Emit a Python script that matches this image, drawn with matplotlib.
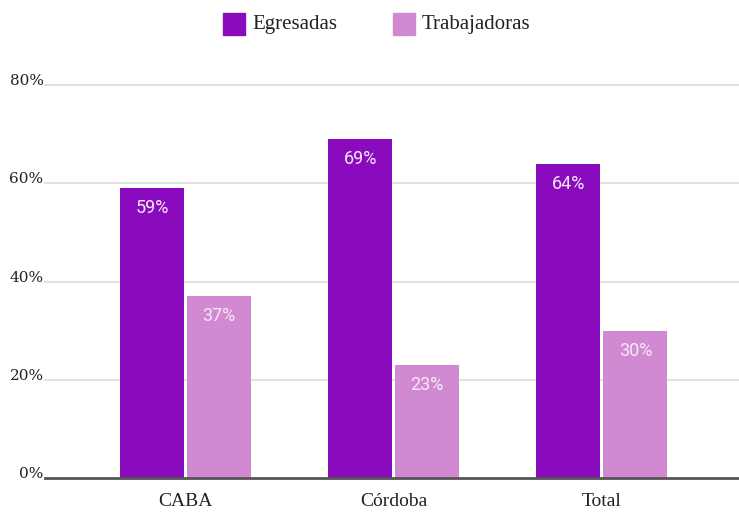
import matplotlib.pyplot as plt
import numpy as np
from matplotlib.patches import Rectangle

categories = ['CABA', 'Córdoba', 'Total']
egresadas = [59, 69, 64]
trabajadoras = [37, 23, 30]
y_ticks = [0, 20, 40, 60, 80]

c_egr = '#8a0bbd'
c_trab = '#d18ad2'

W, H = 739, 512
fig = plt.figure(figsize=(W / 100, H / 100), dpi=100)
ax = fig.add_axes([45 / W, (H - 478) / H, 1 - 45 / W, (478 - 85) / H])

x = np.arange(len(categories))
w = 0.308
gap = 0.0072
b1 = ax.bar(x - w / 2 - gap, egresadas, w, color=c_egr, zorder=3)
b2 = ax.bar(x + w / 2 + gap, trabajadoras, w, color=c_trab, zorder=3)

for bars in (b1, b2):
    for r in bars:
        ax.annotate(f'{r.get_height():.0f}%', (r.get_x() + r.get_width() / 2, r.get_height()),
                    xytext=(0, -14.5), textcoords='offset points', ha='center', va='center',
                    color='#f6e9f6', fontsize=13, family='Roboto', zorder=4)

ax.set_xlim(-0.675, 2.659)
ax.set_ylim(0, 80)

for s in ax.spines.values():
    s.set_visible(False)
for t in y_ticks[1:]:
    ax.axhline(t, color='#dcdcdc', lw=1.2, zorder=1, clip_on=False)
ax.axhline(0, color='#555555', lw=2, zorder=5, clip_on=False)

ax.set_yticks([])
ax.set_xticks(x)
ax.set_xticklabels(categories, family='Liberation Serif', fontsize=14, color='#222222')
ax.tick_params(axis='x', length=0, pad=11)

for t in y_ticks:
    ax.text(-0.002, t, f'{t}%', transform=ax.get_yaxis_transform(), ha='right', va='baseline',
            family='DejaVu Serif', fontsize=11, color='#222222')

# legend drawn by hand
for xs, lab, col in [(223, 'Egresadas', c_egr), (393, 'Trabajadoras', c_trab)]:
    fig.add_artist(Rectangle((xs / W, (H - 35) / H), 22 / W, 22 / H, color=col,
                             transform=fig.transFigure))
    fig.text((xs + 29) / W, (H - 24) / H, lab, ha='left', va='center',
             family='Liberation Serif', fontsize=15, color='#222222')

plt.savefig('out.png', dpi=100)
